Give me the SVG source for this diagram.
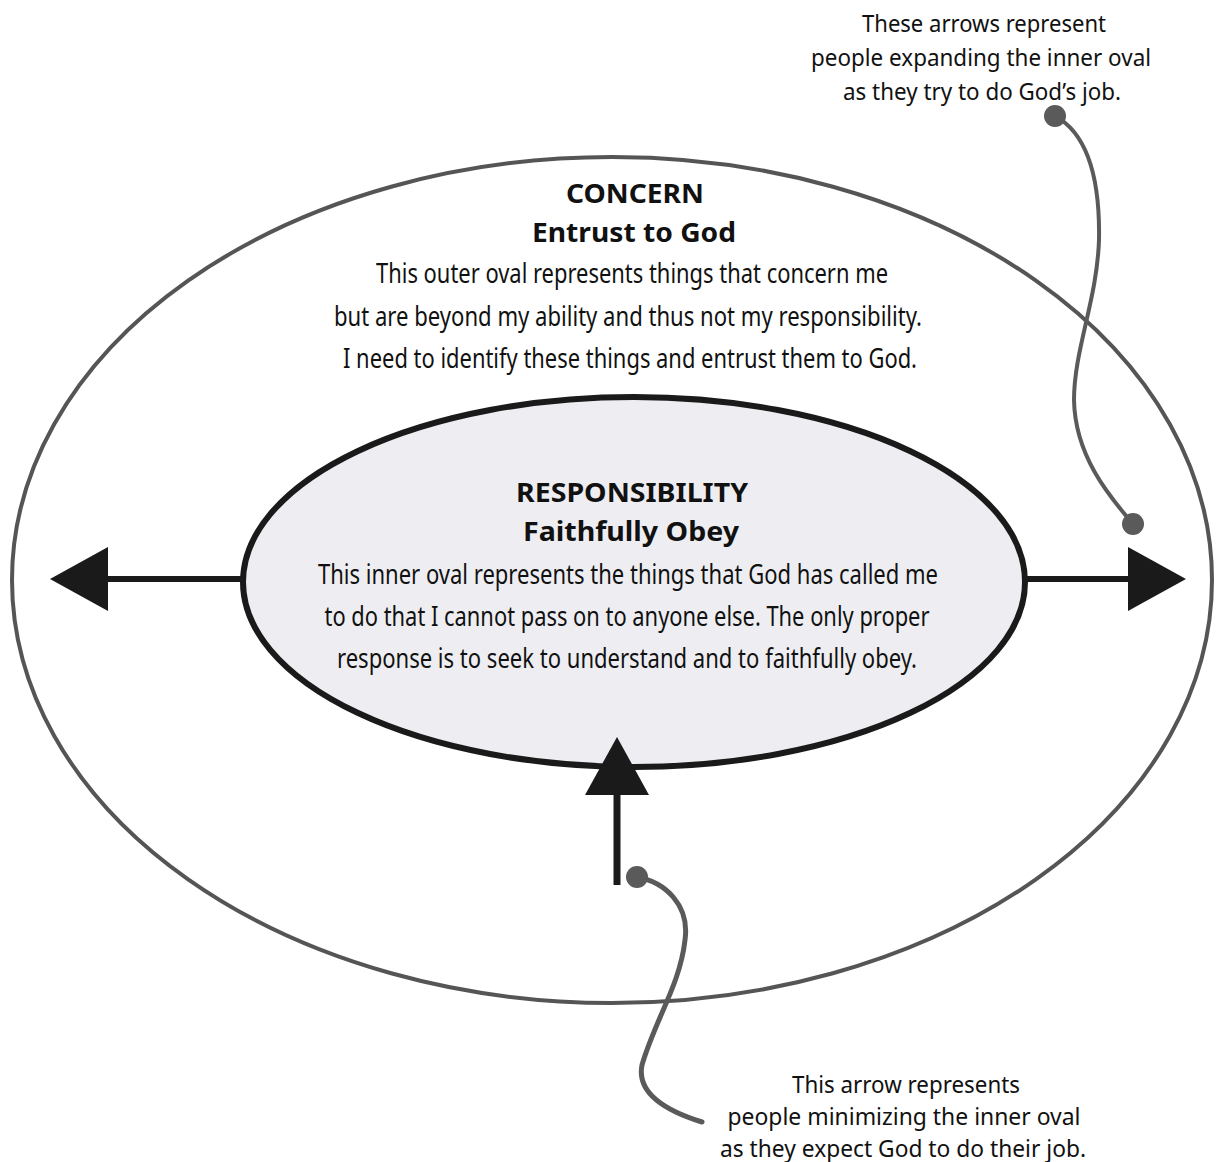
<svg xmlns="http://www.w3.org/2000/svg" width="1225" height="1162" viewBox="0 0 1225 1162">
<style>
  .title { font-family: "Noto Sans", "Open Sans", "Liberation Sans", sans-serif; font-weight: bold; font-size: 27px; fill: #111; text-anchor: middle; }
  .body { font-family: "Noto Sans", "Open Sans", "Liberation Sans", sans-serif; font-size: 27px; fill: #111; text-anchor: middle; }
  .note { font-family: "Noto Sans", "Open Sans", "Liberation Sans", sans-serif; font-size: 23px; fill: #111; text-anchor: middle; }
  .outer { fill: none; stroke: #555; stroke-width: 4; }
  .inner { fill: #eeeef2; stroke: #1a1a1a; stroke-width: 6; }
  .arrow { stroke: #1a1a1a; stroke-width: 6; fill: none; marker-end: url(#head); }
  .callout { stroke: #5a5a5a; stroke-width: 4; fill: none; stroke-linecap: round; }
  .dot { fill: #5a5a5a; }
</style>
<defs>
  <marker id="head" viewBox="0 0 58 64" refX="0" refY="32" markerWidth="58" markerHeight="64" markerUnits="userSpaceOnUse" orient="auto" overflow="visible">
    <path d="M0,0 L58,32 L0,64 Z" fill="#1a1a1a"/>
  </marker>
</defs>
<rect width="1225" height="1162" fill="#ffffff"/>

<g id="concern">
  <ellipse class="outer" cx="612" cy="580" rx="600" ry="423"/>
  <text class="title" x="635" y="203" textLength="138" lengthAdjust="spacingAndGlyphs">CONCERN</text>
  <text class="title" x="634" y="242" textLength="204" lengthAdjust="spacingAndGlyphs">Entrust to God</text>
  <text class="body" x="632" y="283" textLength="512" lengthAdjust="spacingAndGlyphs">This outer oval represents things that concern me</text>
  <text class="body" x="628" y="326" textLength="588" lengthAdjust="spacingAndGlyphs">but are beyond my ability and thus not my responsibility.</text>
  <text class="body" x="630" y="368" textLength="574" lengthAdjust="spacingAndGlyphs">I need to identify these things and entrust them to God.</text>
</g>

<g id="responsibility">
  <ellipse class="inner" cx="634" cy="582" rx="391" ry="185"/>
  <text class="title" x="632" y="502" textLength="232" lengthAdjust="spacingAndGlyphs">RESPONSIBILITY</text>
  <text class="title" x="631" y="541" textLength="216" lengthAdjust="spacingAndGlyphs">Faithfully Obey</text>
  <text class="body" x="628" y="584" textLength="620" lengthAdjust="spacingAndGlyphs">This inner oval represents the things that God has called me</text>
  <text class="body" x="627" y="626" textLength="605" lengthAdjust="spacingAndGlyphs">to do that I cannot pass on to anyone else. The only proper</text>
  <text class="body" x="627" y="668" textLength="580" lengthAdjust="spacingAndGlyphs">response is to seek to understand and to faithfully obey.</text>
</g>

<g id="note-expanding">
  <text class="note" x="984" y="32" textLength="244" lengthAdjust="spacingAndGlyphs">These arrows represent</text>
  <text class="note" x="981" y="66" textLength="340" lengthAdjust="spacingAndGlyphs">people expanding the inner oval</text>
  <text class="note" x="982" y="100" textLength="278" lengthAdjust="spacingAndGlyphs">as they try to do God’s job.</text>
</g>

<g id="note-minimizing">
  <text class="note" x="906" y="1093" textLength="228" lengthAdjust="spacingAndGlyphs">This arrow represents</text>
  <text class="note" x="904" y="1125" textLength="353" lengthAdjust="spacingAndGlyphs">people minimizing the inner oval</text>
  <text class="note" x="903" y="1157" textLength="366" lengthAdjust="spacingAndGlyphs">as they expect God to do their job.</text>
</g>

<g id="connectors">
  <line class="arrow" x1="243" y1="579" x2="108" y2="579"/>
  <line class="arrow" x1="1025" y1="579" x2="1128" y2="579"/>
  <line class="arrow" x1="617" y1="885" x2="617" y2="795" style="stroke-width:7"/>
  <path class="callout" d="M1055,116 C1090,135 1100,185 1099,240 C1097,300 1074,350 1074,400 C1075,455 1108,495 1133,524"/>
  <circle class="dot" cx="1055" cy="116" r="11"/>
  <circle class="dot" cx="1133" cy="524" r="11"/>
  <path class="callout" d="M637,877 C665,882 690,905 685,940 C680,985 655,1020 642,1065 C636,1095 670,1112 702,1122" style="stroke-width:5"/>
  <circle class="dot" cx="637" cy="877" r="11"/>
</g>
</svg>
